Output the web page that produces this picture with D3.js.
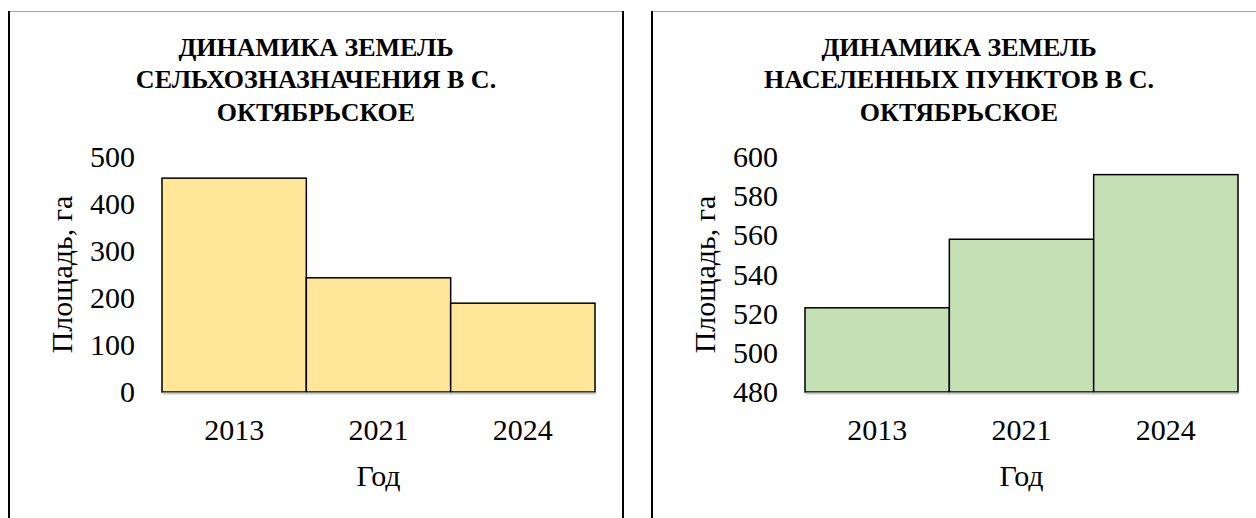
<!DOCTYPE html>
<html>
<head>
<meta charset="utf-8">
<script src="https://cdn.jsdelivr.net/npm/d3@7"></script>
<style>
  body { margin: 0; background: #fff; }
  svg { display: block; }
  text, tspan { font-family: "Liberation Serif", "Times New Roman", "DejaVu Serif", serif; fill: #000; }
</style>
</head>
<body>
<div id="chart"></div>
<script>
// data
var years = ["2013", "2021", "2024"];
var agriValues = [455, 243, 189];
var settleValues = [523, 558, 591];
var agriTicks = [0, 100, 200, 300, 400, 500];
var settleTicks = [480, 500, 520, 540, 560, 580, 600];
var agriTitle = ["ДИНАМИКА ЗЕМЕЛЬ", "СЕЛЬХОЗНАЗНАЧЕНИЯ В С.", "ОКТЯБРЬСКОЕ"];
var settleTitle = ["ДИНАМИКА ЗЕМЕЛЬ", "НАСЕЛЕННЫХ ПУНКТОВ В С.", "ОКТЯБРЬСКОЕ"];
var yLabel = "Площадь, га";
var xLabel = "Год";

var serif = "'Liberation Serif', 'Times New Roman', serif";

var svg = d3.select("#chart").append("svg")
    .attr("width", 1256)
    .attr("height", 518)
    .attr("font-family", serif);

function drawChart(left, title, values, ticks, fill) {
    var boxW = 616, boxH = 520;
    var plot = { left: 154, right: 587, top: 146, bottom: 381 };

    var g = svg.append("g")
        .attr("transform", "translate(" + left + ",11)");

    // frame: grey top, black sides
    g.append("line")
        .attr("x1", 0).attr("x2", boxW).attr("y1", 0.5).attr("y2", 0.5)
        .attr("stroke", "#a6a6a6").attr("stroke-width", 1);
    g.append("line")
        .attr("x1", 1).attr("x2", 1).attr("y1", 0).attr("y2", boxH)
        .attr("stroke", "#000").attr("stroke-width", 2);
    g.append("line")
        .attr("x1", boxW - 1).attr("x2", boxW - 1).attr("y1", 0).attr("y2", boxH)
        .attr("stroke", "#000").attr("stroke-width", 2);

    // title
    g.append("text")
        .attr("text-anchor", "middle")
        .attr("font-family", serif)
        .attr("font-weight", "bold")
        .attr("font-size", 26)
        .selectAll("tspan")
        .data(title)
        .enter().append("tspan")
        .attr("x", boxW / 2)
        .attr("y", function (d, i) { return 44.7 + i * 32.7; })
        .text(function (d) { return d; });

    var x = d3.scaleBand().domain(years).range([plot.left, plot.right]).padding(0);
    var y = d3.scaleLinear().domain([ticks[0], ticks[ticks.length - 1]]).range([plot.bottom, plot.top]);

    g.selectAll(".bar")
        .data(values)
        .enter().append("rect")
        .attr("class", "bar")
        .attr("x", function (d, i) { return x(years[i]); })
        .attr("width", x.bandwidth())
        .attr("y", function (d) { return y(d); })
        .attr("height", function (d) { return plot.bottom - y(d); })
        .attr("fill", fill)
        .attr("stroke", "#000")
        .attr("stroke-width", 1.5);

    var yAxis = g.append("g")
        .attr("transform", "translate(" + plot.left + ",0)")
        .call(d3.axisLeft(y).tickValues(ticks).tickSize(0).tickPadding(27))
        .attr("font-family", serif)
        .attr("font-size", 30);
    yAxis.select(".domain").remove();
    yAxis.selectAll("text").attr("fill", "#000");

    var xAxis = g.append("g")
        .attr("transform", "translate(0," + plot.bottom + ")")
        .call(d3.axisBottom(x).tickSize(0).tickPadding(27))
        .attr("font-family", serif)
        .attr("font-size", 30);
    xAxis.select(".domain")
        .attr("stroke", "#c8c8c8")
        .attr("stroke-width", 2)
        .attr("transform", "translate(0,1)");
    xAxis.selectAll("text").attr("fill", "#000");

    g.append("text")
        .attr("text-anchor", "middle")
        .attr("x", (plot.left + plot.right) / 2)
        .attr("y", 475)
        .attr("font-size", 30)
        .text(xLabel);

    g.append("text")
        .attr("text-anchor", "middle")
        .attr("transform", "translate(64," + (plot.top + plot.bottom) / 2 + ") rotate(-90)")
        .attr("font-size", 30)
        .text(yLabel);
}

drawChart(8, agriTitle, agriValues, agriTicks, "#ffe699");
drawChart(651, settleTitle, settleValues, settleTicks, "#c5e0b4");
</script>
</body>
</html>
